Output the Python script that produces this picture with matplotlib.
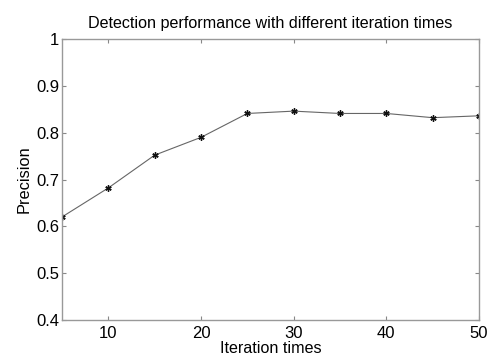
import matplotlib
matplotlib.use('Agg')
import matplotlib.pyplot as plt

plt.rcParams['font.family'] = ['Liberation Sans', 'DejaVu Sans']

iterations = [5, 10, 15, 20, 25, 30, 35, 40, 45, 50]
precision = [0.62, 0.682, 0.752, 0.79, 0.841, 0.846, 0.841, 0.841, 0.832, 0.836]
xticks = [10, 20, 30, 40, 50]
yticks = [0.4, 0.5, 0.6, 0.7, 0.8, 0.9, 1.0]
ylabels = ['0.4', '0.5', '0.6', '0.7', '0.8', '0.9', '1']

fig = plt.figure(figsize=(4.89, 3.56), dpi=100)
ax = fig.add_axes([62 / 489, 1 - 320 / 356, 417 / 489, 281 / 356])

ax.plot(iterations, precision, color='#666666', linewidth=0.8,
        marker=(6, 2, 0), markersize=4.5, markeredgewidth=1.0,
        markeredgecolor='#111111', markerfacecolor='#111111')

ax.set_xlim(5, 50)
ax.set_ylim(0.4, 1.0)
ax.set_xticks(xticks)
ax.set_yticks(yticks)
ax.set_yticklabels(ylabels)
ax.tick_params(direction='in', top=True, right=True, length=3, width=0.8,
               color='#888888', labelsize=12, pad=4)
ax.tick_params(axis='y', pad=2)
for s in ax.spines.values():
    s.set_color('#999999')
    s.set_linewidth(1.0)

ax.set_title('Detection performance with different iteration times', fontsize=11.6, pad=8)
ax.set_xlabel('Iteration times', fontsize=11.6, labelpad=0.5)
ax.set_ylabel('Precision', fontsize=11.8, labelpad=3)

fig.savefig('out.png', dpi=100)
